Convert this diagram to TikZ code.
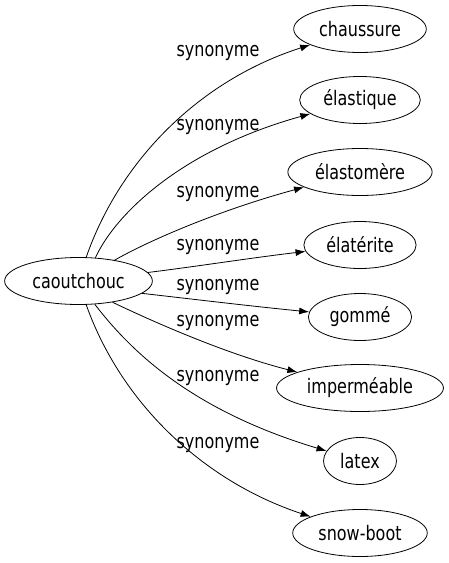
\documentclass[tikz,border=0pt]{standalone}
\usepackage{fontspec}
\setmainfont{DejaVu Sans}[FakeStretch=0.8]
\usetikzlibrary{shapes.geometric,arrows.meta}

\tikzset{
	mot/.style={ellipse,draw,line width=0.8pt,inner xsep=6pt,inner ysep=2pt,
		minimum height=47pt},
	lien/.style={line width=0.8pt,-{Latex[length=10pt,width=7pt]}},
	syn/.style={inner sep=0pt}
}

\begin{document}
\begin{tikzpicture}[x=1pt,y=-1pt,font=\fontsize{20}{24}\selectfont]
			\useasboundingbox (0,0) rectangle (448,563);
			\node[mot] (c) at (78.5,281) {caoutchouc};
			\foreach \i/\w/\y in {1/chaussure/29,2/élastique/100,3/élastomère/172,
					4/élatérite/245,5/gommé/317,6/imperméable/388,7/latex/461,8/snow-boot/533}{
					\node[mot] (n\i) at (360,\y) {\w};}
			\foreach \i/\y in {1/53,2/127,3/194,4/247,5/287,6/323,7/378,8/445}{
					\node[syn] (s\i) at (218,\y) {synonyme};}
			\draw[lien] (c.72) .. controls (120,160) and (200,80) .. (n1);
			\draw[lien] (c.54) .. controls (115,215) and (180,150) .. (n2);
			\draw[lien] (c.30) .. controls (150,240) and (220,210) .. (n3);
			\draw[lien] (c.7) .. controls (200,266) and (250,258) .. (n4);
			\draw[lien] (c.-11) .. controls (200,300) and (250,306) .. (n5);
			\draw[lien] (c.-32) .. controls (160,325) and (230,355) .. (n6);
			\draw[lien] (c.-55) .. controls (130,350) and (190,410) .. (n7);
			\draw[lien] (c.-72) .. controls (120,400) and (200,480) .. (n8);
		\end{tikzpicture}
\end{document}
